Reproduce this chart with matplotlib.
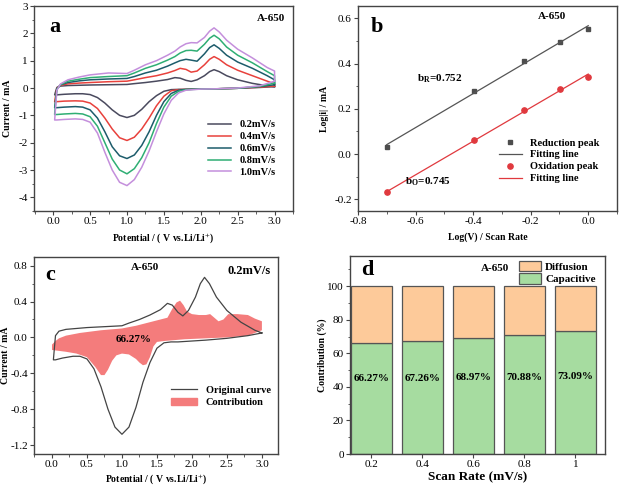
import numpy as np
import matplotlib
matplotlib.use('Agg')
import matplotlib.pyplot as plt
from matplotlib.ticker import AutoMinorLocator, MultipleLocator
from matplotlib.patches import Patch
from matplotlib.lines import Line2D

plt.rcParams['font.family'] = ['Liberation Serif', 'DejaVu Serif']
plt.rcParams['mathtext.fontset'] = 'stix'
plt.rcParams['axes.unicode_minus'] = False

# ---- panel a: CV curves at several scan rates
rates = ['0.2mV/s', '0.4mV/s', '0.6mV/s', '0.8mV/s', '1.0mV/s']
colors = ['#4a4a5e', '#e8413c', '#1d5c6b', '#2fae74', '#c48fdc']

# anodic (upper) branch, potential grid shared by all rates
E_up = [0.02, 0.05, 0.1, 0.2, 0.35, 0.5, 0.75, 1.0, 1.1, 1.25, 1.4, 1.55, 1.65,
        1.72, 1.8, 1.87, 1.95, 2.05, 2.12, 2.18, 2.25, 2.35, 2.5, 2.7, 2.9, 3.0]
I_up = [
    [-0.25, 0.02, 0.07, 0.09, 0.10, 0.11, 0.12, 0.13, 0.16, 0.2, 0.25, 0.31, 0.38,
     0.36, 0.28, 0.24, 0.3, 0.45, 0.6, 0.67, 0.6, 0.45, 0.3, 0.17, 0.08, 0.05],
    [-0.5, 0.0, 0.1, 0.15, 0.18, 0.2, 0.23, 0.25, 0.3, 0.38, 0.45, 0.55, 0.64,
     0.72, 0.68, 0.58, 0.62, 0.85, 1.05, 1.15, 1.05, 0.85, 0.65, 0.45, 0.25, 0.15],
    [-0.72, -0.02, 0.12, 0.2, 0.26, 0.3, 0.33, 0.35, 0.42, 0.55, 0.65, 0.8, 0.92,
     1.0, 1.05, 1.02, 0.98, 1.25, 1.48, 1.58, 1.45, 1.2, 0.95, 0.72, 0.45, 0.3],
    [-0.95, -0.05, 0.12, 0.25, 0.32, 0.38, 0.42, 0.45, 0.55, 0.72, 0.85, 1.02, 1.15,
     1.28, 1.37, 1.38, 1.35, 1.6, 1.82, 1.93, 1.8, 1.5, 1.2, 0.92, 0.6, 0.45],
    [-1.17, -0.08, 0.15, 0.3, 0.4, 0.48, 0.55, 0.53, 0.65, 0.85, 1.0, 1.2, 1.35,
     1.5, 1.62, 1.66, 1.65, 1.85, 2.08, 2.2, 2.05, 1.75, 1.42, 1.1, 0.75, 0.62],
]

# cathodic (lower) branch
E_low = [3.0, 2.8, 2.5, 2.2, 2.0, 1.8, 1.7, 1.6, 1.5, 1.4, 1.3, 1.2, 1.1, 1.0,
         0.9, 0.8, 0.7, 0.6, 0.5, 0.4, 0.3, 0.15, 0.05, 0.02]
I_low = [
    [0.05, 0.02, -0.01, -0.03, -0.04, -0.05, -0.05, -0.06, -0.12, -0.28, -0.5, -0.78,
     -1.0, -1.08, -1.0, -0.8, -0.55, -0.35, -0.24, -0.21, -0.21, -0.23, -0.25, -0.25],
    [0.07, 0.03, -0.01, -0.03, -0.04, -0.05, -0.06, -0.1, -0.3, -0.65, -1.1, -1.5,
     -1.8, -1.92, -1.82, -1.5, -1.1, -0.75, -0.55, -0.48, -0.47, -0.48, -0.5, -0.5],
    [0.12, 0.05, -0.01, -0.03, -0.04, -0.05, -0.08, -0.2, -0.5, -1.0, -1.6, -2.1,
     -2.45, -2.58, -2.48, -2.15, -1.6, -1.1, -0.8, -0.7, -0.68, -0.7, -0.72, -0.72],
    [0.18, 0.06, -0.01, -0.03, -0.04, -0.06, -0.12, -0.3, -0.7, -1.3, -2.0, -2.55,
     -2.95, -3.14, -3.0, -2.6, -2.0, -1.4, -1.05, -0.95, -0.93, -0.95, -0.97, -0.97],
    [0.25, 0.08, 0.0, -0.03, -0.04, -0.08, -0.18, -0.45, -0.95, -1.6, -2.3, -2.9,
     -3.35, -3.57, -3.45, -3.0, -2.35, -1.65, -1.25, -1.15, -1.13, -1.15, -1.17, -1.17],
]

# ---- panel b: log peak current vs log scan rate
log_v = [-0.699, -0.398, -0.222, -0.097, 0.0]
log_i_red = [0.033, 0.28, 0.41, 0.497, 0.555]
log_i_ox = [-0.17, 0.06, 0.197, 0.287, 0.343]

# ---- panel c: capacitive contribution region at 0.2 mV/s
cap_up_E = [0.0, 0.05, 0.1, 0.2, 0.4, 0.7, 1.0, 1.2, 1.4, 1.55, 1.65, 1.72, 1.78, 1.83,
            1.88, 1.93, 2.0, 2.1, 2.2, 2.26, 2.32, 2.38, 2.45, 2.52, 2.65, 2.8, 2.9, 3.0]
cap_up_I = [-0.08, -0.04, -0.01, 0.02, 0.05, 0.08, 0.1, 0.13, 0.17, 0.2, 0.22, 0.32, 0.39, 0.41,
            0.36, 0.29, 0.26, 0.25, 0.25, 0.26, 0.22, 0.18, 0.2, 0.26, 0.26, 0.25, 0.21, 0.18]
cap_low_E = [3.0, 2.8, 2.5, 2.2, 1.9, 1.6, 1.5, 1.45, 1.4, 1.35, 1.3, 1.25, 1.2, 1.1,
             1.0, 0.92, 0.86, 0.8, 0.75, 0.7, 0.62, 0.5, 0.35, 0.2, 0.0]
cap_low_I = [0.08, 0.02, 0.0, -0.01, -0.02, -0.04, -0.05, -0.1, -0.22, -0.3, -0.31, -0.28,
             -0.24, -0.19, -0.18, -0.2, -0.26, -0.36, -0.42, -0.42, -0.33, -0.22, -0.18,
             -0.16, -0.14]

# ---- panel d: contribution bars
scan_labels = ['0.2', '0.4', '0.6', '0.8', '1']
capacitive = [66.27, 67.26, 68.97, 70.88, 73.09]

W, H = 620, 486
fig = plt.figure(figsize=(W / 100, H / 100), dpi=100)


def box(l, r, t, b):
    return [l / W, (H - b) / H, (r - l) / W, (b - t) / H]


def style(ax):
    for s in ax.spines.values():
        s.set_color('#444444')
        s.set_linewidth(1.0)
    ax.tick_params(which='both', direction='out', labelsize=8, color='#444444',
                   top=False, right=False, pad=1.5)
    ax.tick_params(which='major', length=3)
    ax.tick_params(which='minor', length=1.8)


lab = dict(fontsize=7, fontweight='bold')

# a
ax = fig.add_axes(box(34, 293, 6, 211))
style(ax)
for k in range(5):
    x = E_low + E_up
    y = I_low[k] + I_up[k]
    ax.plot(x + [E_low[0]], y + [I_low[k][0]], color=colors[k], lw=1.1, label=rates[k])
ax.set_xlim(-0.26, 3.25)
ax.set_ylim(-4.5, 3)
ax.xaxis.set_major_locator(MultipleLocator(0.5))
ax.xaxis.set_minor_locator(AutoMinorLocator(2))
ax.yaxis.set_major_locator(MultipleLocator(1))
ax.yaxis.set_minor_locator(AutoMinorLocator(2))
ax.set_xlabel('Potential / ( V vs.Li/Li$^{+}$)', **lab)
ax.xaxis.set_label_coords(0.5, -0.1)
ax.set_ylabel('Current / mA', **lab)
ax.yaxis.set_label_coords(-0.085, 0.5)
ax.text(0.06, 0.9, 'a', transform=ax.transAxes, fontsize=16, fontweight='bold', va='center')
ax.text(0.97, 0.94, 'A-650', transform=ax.transAxes, fontsize=8, fontweight='bold',
        ha='right', va='center')
ax.legend(loc='lower right', bbox_to_anchor=(0.96, 0.13), frameon=False,
          prop=dict(size=7.5, weight='bold'), handlelength=2.2, labelspacing=0.25,
          borderpad=0.2)

# b
ax = fig.add_axes(box(358, 617, 6, 211))
style(ax)
xfit = np.array([-0.7, 0.0])
pr = np.polyfit(log_v, log_i_red, 1)
po = np.polyfit(log_v, log_i_ox, 1)
ax.plot(log_v, log_i_red, 's', color='#4d4d4d', ms=3.5, label='Reduction peak')
ax.plot(xfit, np.polyval(pr, xfit), color='#555555', lw=0.9, label='Fitting line')
ax.plot(log_v, log_i_ox, 'o', color='#e0393e', ms=3.8, label='Oxidation peak')
ax.plot(xfit, np.polyval(po, xfit), color='#e0393e', lw=0.9, label='Fitting line')
ax.set_xlim(-0.8, 0.1)
ax.set_ylim(-0.252, 0.655)
ax.xaxis.set_major_locator(MultipleLocator(0.2))
ax.xaxis.set_minor_locator(AutoMinorLocator(2))
ax.yaxis.set_major_locator(MultipleLocator(0.2))
ax.yaxis.set_minor_locator(AutoMinorLocator(2))
ax.set_xlabel('Log(V) / Scan Rate', **lab)
ax.xaxis.set_label_coords(0.5, -0.105)
ax.set_ylabel('Log|i| / mA', **lab)
ax.yaxis.set_label_coords(-0.112, 0.5)
ax.text(0.05, 0.9, 'b', transform=ax.transAxes, fontsize=16, fontweight='bold', va='center')
ax.text(-0.126, 0.607, 'A-650', fontsize=8, fontweight='bold', ha='center', va='center')
ax.text(-0.515, 0.334, r'b$_\mathregular{R}$=0.752', fontsize=8, fontweight='bold',
        ha='center', va='center')
ax.text(-0.556, -0.123, r'b$_\mathregular{O}$=0.745', fontsize=8, fontweight='bold',
        ha='center', va='center')
ax.legend(loc='lower right', bbox_to_anchor=(0.96, 0.1), frameon=False,
          prop=dict(size=7.5, weight='bold'), handlelength=2.2, labelspacing=0.25,
          borderpad=0.2)

# c
ax = fig.add_axes(box(34, 278, 257, 454))
style(ax)
ax.fill(cap_up_E + cap_low_E, cap_up_I + cap_low_I, color='#f47c7c', lw=0, zorder=1)
x = E_low + E_up
y = I_low[0] + I_up[0]
ax.plot(x + [E_low[0]], y + [I_low[0][0]], color='#444444', lw=0.9, zorder=2)
ax.set_xlim(-0.257, 3.23)
ax.set_ylim(-1.3, 0.897)
ax.xaxis.set_major_locator(MultipleLocator(0.5))
ax.xaxis.set_minor_locator(AutoMinorLocator(2))
ax.yaxis.set_major_locator(MultipleLocator(0.4))
ax.yaxis.set_minor_locator(AutoMinorLocator(2))
ax.set_xlabel('Potential / ( V vs.Li/Li$^{+}$)', **lab)
ax.xaxis.set_label_coords(0.5, -0.092)
ax.set_ylabel('Current / mA', **lab)
ax.yaxis.set_label_coords(-0.097, 0.5)
ax.text(0.045, 0.91, 'c', transform=ax.transAxes, fontsize=16, fontweight='bold', va='center')
ax.text(0.455, 0.945, 'A-650', transform=ax.transAxes, fontsize=8, fontweight='bold',
        ha='center', va='center')
ax.text(0.97, 0.93, '0.2mV/s', transform=ax.transAxes, fontsize=9, fontweight='bold',
        ha='right', va='center')
ax.text(1.17, -0.02, '66.27%', fontsize=8, fontweight='bold', ha='center', va='center')
handles = [Line2D([], [], color='#444444', lw=0.9), Patch(color='#f47c7c')]
ax.legend(handles, ['Original curve', 'Contribution'], loc='lower right',
          bbox_to_anchor=(1.0, 0.2), frameon=False, prop=dict(size=7.5, weight='bold'),
          handlelength=2.5, labelspacing=0.3, borderpad=0.2)

# d
ax = fig.add_axes(box(350, 605, 256, 454))
style(ax)
pos = np.arange(len(scan_labels))
diffusion = [100 - c for c in capacitive]
ax.bar(pos, capacitive, width=0.79, color='#a6dca0', edgecolor='#555555', lw=0.9,
       label='Capacitive')
ax.bar(pos, diffusion, bottom=capacitive, width=0.79, color='#fdca9a',
       edgecolor='#555555', lw=0.9, label='Diffusion')
for p, c in zip(pos, capacitive):
    ax.text(p, 45 + (c - 66) * 0.15, '%.2f%%' % c, fontsize=8, fontweight='bold',
            ha='center', va='center')
ax.set_xlim(-0.42, 4.58)
ax.set_ylim(0, 118)
ax.set_xticks(pos)
ax.set_xticklabels(scan_labels)
ax.yaxis.set_major_locator(MultipleLocator(20))
ax.yaxis.set_minor_locator(AutoMinorLocator(2))
ax.set_xlabel('Scan Rate (mV/s)', fontsize=9.5, fontweight='bold')
ax.xaxis.set_label_coords(0.5, -0.088)
ax.set_ylabel('Contribution (%)', **lab)
ax.yaxis.set_label_coords(-0.09, 0.5)
ax.text(0.045, 0.93, 'd', transform=ax.transAxes, fontsize=16, fontweight='bold', va='center')
ax.text(2.43, 110.4, 'A-650', fontsize=8, fontweight='bold', ha='center', va='center')
h, l = ax.get_legend_handles_labels()
ax.legend(h[::-1], l[::-1], loc='upper right', bbox_to_anchor=(0.99, 1.01), frameon=False,
          prop=dict(size=8, weight='bold'), handlelength=2.0, handleheight=1.1,
          labelspacing=0.1, borderpad=0.1, handletextpad=0.4)

fig.savefig('out.png', dpi=100)
